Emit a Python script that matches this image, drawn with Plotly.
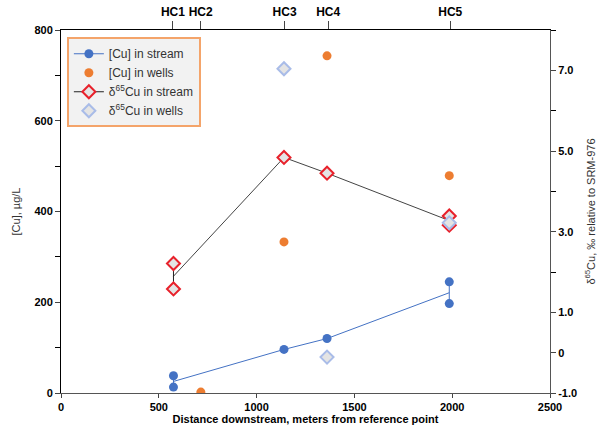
import plotly.graph_objects as go

# ---- data ----
site_labels = ["HC1", "HC2", "HC3", "HC4", "HC5"]
site_x = [572, 714, 1143, 1366, 1990]

stream_x = [575, 575, 1140, 1360, 1985, 1985]
cu_stream = [38, 13, 96, 120, 245, 197]
d65_stream = [2.21, 1.58, 4.84, 4.45, 3.39, 3.16]

wells_x = [715, 1140, 1360, 1985]
cu_wells = [2, 333, 743, 479]

d65_wells_x = [1140, 1360, 1985]
d65_wells = [7.04, -0.11, 3.22]

x_ticks = [0, 500, 1000, 1500, 2000, 2500]
y_ticks = [0, 200, 400, 600, 800]
y_minor = [100, 300, 500, 700]
y2_ticks = [-1, 0, 1, 3, 5, 7]
y2_text = ["-1.0", "0", "1.0", "3.0", "5.0", "7.0"]
y2_minor = [2, 4, 6, 8]


def grouped(xs, ys):
    """Group duplicate samples per site; return gapped series and site means."""
    order = []
    groups = {}
    for x, y in zip(xs, ys):
        if x not in groups:
            groups[x] = []
            order.append(x)
        groups[x].append(y)
    gx, gy, mx, my = [], [], [], []
    for x in order:
        for y in groups[x]:
            gx.append(x)
            gy.append(y)
        gx.append(None)
        gy.append(None)
        mx.append(x)
        my.append(sum(groups[x]) / len(groups[x]))
    return gx, gy, mx, my


cs_gx, cs_gy, cs_mx, cs_my = grouped(stream_x, cu_stream)
ds_gx, ds_gy, ds_mx, ds_my = grouped(stream_x, d65_stream)

BLUE = "#4472C4"
ORANGE = "#ED7D31"
RED = "#E8212B"
LBLUE = "#A9BCE8"
FILL = "#E4E4E4"
FONT = "Liberation Sans Narrow, Liberation Sans, Arial, sans-serif"

fig = go.Figure()

# mean lines (no legend)
fig.add_trace(go.Scatter(x=cs_mx, y=cs_my, mode="lines",
                         line=dict(color=BLUE, width=1), showlegend=False,
                         hoverinfo="skip"))
fig.add_trace(go.Scatter(x=ds_mx, y=ds_my, mode="lines", yaxis="y2",
                         line=dict(color="#444444", width=1), showlegend=False,
                         hoverinfo="skip"))

fig.add_trace(go.Scatter(x=cs_gx, y=cs_gy, mode="lines+markers",
                         name="[Cu] in stream",
                         line=dict(color=BLUE, width=1),
                         marker=dict(color=BLUE, size=9, symbol="circle")))
fig.add_trace(go.Scatter(x=wells_x, y=cu_wells, mode="markers",
                         name="[Cu] in wells",
                         marker=dict(color=ORANGE, size=9, symbol="circle")))
fig.add_trace(go.Scatter(x=ds_gx, y=ds_gy, mode="lines+markers", yaxis="y2",
                         name="δ<sup>65</sup>Cu in stream",
                         line=dict(color="#222222", width=1),
                         marker=dict(color=FILL, size=10, symbol="diamond",
                                     line=dict(color=RED, width=2))))
fig.add_trace(go.Scatter(x=d65_wells_x, y=d65_wells, mode="markers", yaxis="y2",
                         name="δ<sup>65</sup>Cu in wells",
                         marker=dict(color=FILL, size=10, symbol="diamond",
                                     line=dict(color=LBLUE, width=2))))

# invisible trace to anchor the top axis
fig.add_trace(go.Scatter(x=site_x, y=[None] * len(site_x), xaxis="x2",
                         mode="markers", showlegend=False, hoverinfo="skip"))

tickfont = dict(family=FONT, size=11, color="black", weight="bold")

fig.update_layout(
    width=597, height=426,
    margin=dict(l=61, r=47, t=30, b=33),
    paper_bgcolor="white", plot_bgcolor="white",
    font=dict(family=FONT, color="#333333"),
    xaxis=dict(range=[0, 2500], tickvals=x_ticks, ticks="outside", ticklen=4,
               showline=True, linecolor="#555555", linewidth=1, showgrid=False,
               zeroline=False, tickfont=tickfont, automargin=False, tickangle=0,
               title=dict(text="Distance downstream, meters from reference point",
                          font=dict(family=FONT, size=11, color="black", weight="bold"),
                          standoff=2)),
    xaxis2=dict(range=[0, 2500], overlaying="x", side="top", tickvals=site_x,
                ticktext=site_labels, ticks="outside", ticklen=8,
                showline=True, linecolor="black", linewidth=1, showgrid=False,
                zeroline=False, automargin=False, tickangle=0,
                tickfont=dict(family=FONT, size=12, color="black", weight="bold")),
    yaxis=dict(range=[0, 800], tickvals=y_ticks, ticks="outside", ticklen=5,
               minor=dict(tickmode="array", tickvals=y_minor, ticks="outside",
                          ticklen=5, tickcolor="black"),
               showline=True, linecolor="black", linewidth=1, showgrid=False,
               zeroline=False, tickfont=tickfont, automargin=False,
               title=dict(text="[Cu], µg/L",
                          font=dict(family=FONT, size=11, color="#333333"),
                          standoff=11)),
    yaxis2=dict(range=[-1, 8], overlaying="y", side="right", tickvals=y2_ticks,
                ticktext=y2_text, ticks="outside", ticklen=5,
                minor=dict(tickmode="array", tickvals=y2_minor, ticks="outside",
                           ticklen=5, tickcolor="black"),
                showline=True, linecolor="#555555", linewidth=1, showgrid=False,
                zeroline=False, tickfont=tickfont, automargin=False,
                title=dict(text="δ<sup>65</sup>Cu, ‰ relative to SRM-976",
                           font=dict(family=FONT, size=11, color="#333333"),
                           standoff=15)),
    legend=dict(x=0.012, y=0.98, xanchor="left", yanchor="top",
                bgcolor="#F2F2F2", bordercolor="#F4A46A", borderwidth=2,
                font=dict(family="Liberation Sans, Arial, sans-serif", size=12,
                          color="#333333"),
                tracegroupgap=0, itemwidth=30),
)

fig.write_html("out.html", config={"displayModeBar": False},
               post_script="document.body.style.margin='0px';")
